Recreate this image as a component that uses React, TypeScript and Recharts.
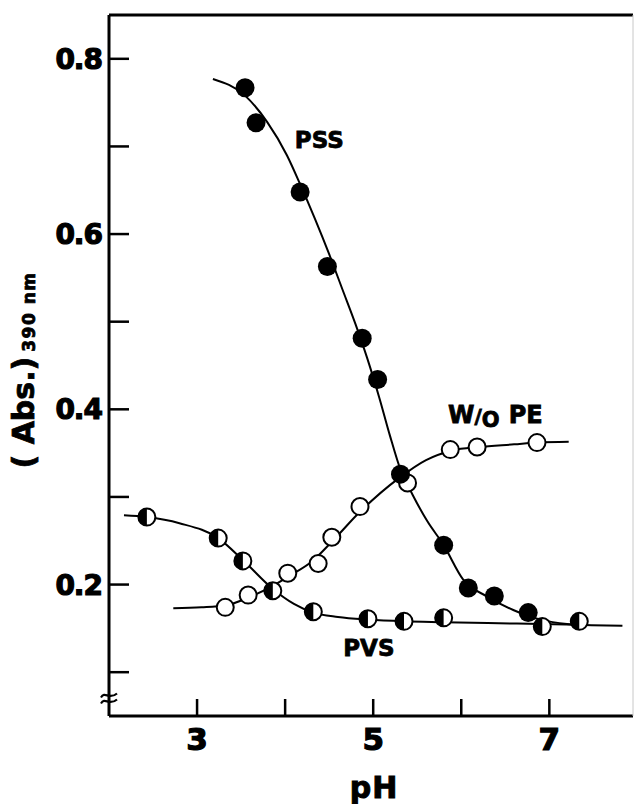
import React from 'react';
import { ComposedChart, Line, Scatter, XAxis, YAxis, ReferenceDot } from 'recharts';

const FONT = '"DejaVu Sans", Arial, sans-serif';

// measured points (pH, absorbance at 390 nm)
const pssPoints = [
  { ph: 3.545, abs: 0.767 },
  { ph: 3.67, abs: 0.727 },
  { ph: 4.17, abs: 0.648 },
  { ph: 4.48, abs: 0.563 },
  { ph: 4.875, abs: 0.481 },
  { ph: 5.05, abs: 0.434 },
  { ph: 5.31, abs: 0.326 },
  { ph: 5.8, abs: 0.245 },
  { ph: 6.08, abs: 0.196 },
  { ph: 6.375, abs: 0.187 },
  { ph: 6.76, abs: 0.168 },
];

const woPoints = [
  { ph: 3.32, abs: 0.174 },
  { ph: 3.58, abs: 0.188 },
  { ph: 4.03, abs: 0.213 },
  { ph: 4.375, abs: 0.224 },
  { ph: 4.53, abs: 0.254 },
  { ph: 4.85, abs: 0.289 },
  { ph: 5.39, abs: 0.316 },
  { ph: 5.875, abs: 0.354 },
  { ph: 6.18, abs: 0.357 },
  { ph: 6.86, abs: 0.362 },
];

const pvsPoints = [
  { ph: 2.43, abs: 0.277 },
  { ph: 3.24, abs: 0.253 },
  { ph: 3.52, abs: 0.227 },
  { ph: 3.86, abs: 0.193 },
  { ph: 4.32, abs: 0.169 },
  { ph: 4.94, abs: 0.161 },
  { ph: 5.35, abs: 0.158 },
  { ph: 5.8, abs: 0.162 },
  { ph: 6.92, abs: 0.152 },
  { ph: 7.34, abs: 0.158 },
];

// hand-drawn curves
const pssCurve = [
  { ph: 3.18, abs: 0.777 },
  { ph: 3.545, abs: 0.758 },
  { ph: 3.795, abs: 0.728 },
  { ph: 4.02, abs: 0.69 },
  { ph: 4.17, abs: 0.657 },
  { ph: 4.34, abs: 0.617 },
  { ph: 4.5, abs: 0.577 },
  { ph: 4.65, abs: 0.537 },
  { ph: 4.8, abs: 0.497 },
  { ph: 4.93, abs: 0.459 },
  { ph: 5.07, abs: 0.413 },
  { ph: 5.19, abs: 0.37 },
  { ph: 5.31, abs: 0.331 },
  { ph: 5.45, abs: 0.302 },
  { ph: 5.61, abs: 0.273 },
  { ph: 5.8, abs: 0.245 },
  { ph: 6.02, abs: 0.206 },
  { ph: 6.3, abs: 0.186 },
  { ph: 6.59, abs: 0.171 },
  { ph: 6.9, abs: 0.16 },
  { ph: 7.2, abs: 0.155 },
  { ph: 7.35, abs: 0.154 },
];

const woCurve = [
  { ph: 2.73, abs: 0.173 },
  { ph: 3.05, abs: 0.174 },
  { ph: 3.32, abs: 0.176 },
  { ph: 3.6, abs: 0.186 },
  { ph: 3.85, abs: 0.198 },
  { ph: 4.05, abs: 0.21 },
  { ph: 4.3, abs: 0.226 },
  { ph: 4.55, abs: 0.251 },
  { ph: 4.85, abs: 0.283 },
  { ph: 5.3, abs: 0.322 },
  { ph: 5.6, abs: 0.342 },
  { ph: 5.9, abs: 0.353 },
  { ph: 6.2, abs: 0.357 },
  { ph: 6.6, abs: 0.36 },
  { ph: 6.86, abs: 0.362 },
  { ph: 7.22, abs: 0.363 },
];

const pvsCurve = [
  { ph: 2.17, abs: 0.279 },
  { ph: 2.43, abs: 0.277 },
  { ph: 2.8, abs: 0.27 },
  { ph: 3.24, abs: 0.253 },
  { ph: 3.52, abs: 0.228 },
  { ph: 3.86, abs: 0.195 },
  { ph: 4.1, abs: 0.178 },
  { ph: 4.32, abs: 0.168 },
  { ph: 4.6, abs: 0.163 },
  { ph: 4.94, abs: 0.16 },
  { ph: 5.35, abs: 0.158 },
  { ph: 5.8, abs: 0.157 },
  { ph: 6.3, abs: 0.156 },
  { ph: 6.9, abs: 0.155 },
  { ph: 7.34, abs: 0.154 },
  { ph: 7.83, abs: 0.153 },
];

const xTicks = [3, 4, 5, 6, 7];
const xLabelled = [3, 5, 7];
const yTicks = [0.1, 0.2, 0.3, 0.4, 0.5, 0.6, 0.7, 0.8];
const yLabelled = [0.2, 0.4, 0.6, 0.8];

const notes = [
  { ph: 4.11, abs: 0.698, text: 'PSS' },
  { ph: 4.66, abs: 0.118, text: 'PVS' },
];
const woNote = { ph: 5.85, abs: 0.384 };
const axisBreak = { ph: 2, abs: 0.07 };

const XTick = (props: any) => {
  const { x, y, payload } = props;
  const v = payload.value;
  return (
    <g>
      <line x1={x} y1={y} x2={x} y2={y - 17} stroke="#000" strokeWidth={2.5} />
      {xLabelled.includes(v) && (
        <text x={x} y={y + 34} textAnchor="middle" fontFamily={FONT} fontWeight="bold" fontSize={31}
          fill="#000" stroke="#000" strokeWidth={1.2}>
          {v}
        </text>
      )}
    </g>
  );
};

const YTick = (props: any) => {
  const { x, y, payload } = props;
  const v = payload.value;
  return (
    <g>
      <line x1={x} y1={y} x2={x + 20} y2={y} stroke="#000" strokeWidth={2.5} />
      {yLabelled.includes(v) && (
        <text x={x - 7} y={y + 10} textAnchor="end" fontFamily={FONT} fontWeight="bold" fontSize={28}
          letterSpacing={-1} fill="#000" stroke="#000" strokeWidth={1.2}>
          {v.toFixed(1)}
        </text>
      )}
    </g>
  );
};

const YTitle = (props: any) => {
  const vb = props.viewBox || { x: 0 };
  return (
    <text
      transform={`translate(${vb.x + 34},370) rotate(-90)`}
      textAnchor="middle"
      fontFamily={FONT}
      fontWeight="bold"
      fill="#000"
      stroke="#000"
      strokeWidth={0.8}
    >
      <tspan fontSize={30}>( Abs.)</tspan>
      <tspan fontSize={17} dx={5} dy={1} letterSpacing={1.5}>390 nm</tspan>
    </text>
  );
};

const XTitle = (props: any) => {
  const vb = props.viewBox || { x: 109, y: 716, width: 524 };
  return (
    <text x={vb.x + vb.width / 2 + 3} y={vb.y + 82} textAnchor="middle" fontFamily={FONT} fontWeight="bold"
      fontSize={30} letterSpacing={1} fill="#000" stroke="#000" strokeWidth={1}>
      pH
    </text>
  );
};

const Filled = (p: any) => <circle cx={p.cx} cy={p.cy} r={9.5} fill="#000" />;
const Open = (p: any) => <circle cx={p.cx} cy={p.cy} r={8.5} fill="#fff" stroke="#000" strokeWidth={2} />;
const Half = (p: any) => {
  const r = 8.5;
  return (
    <g>
      <circle cx={p.cx} cy={p.cy} r={r} fill="#fff" stroke="#000" strokeWidth={2} />
      <path d={`M${p.cx},${p.cy - r} A${r},${r} 0 0 0 ${p.cx},${p.cy + r} Z`} fill="#000" />
    </g>
  );
};

const BreakMark = (p: any) => {
  const { cx, cy } = p;
  const wave = (dy: number) =>
    `M${cx - 8},${cy + dy + 2} C${cx - 4},${cy + dy - 5} ${cx},${cy + dy + 5} ${cx + 8},${cy + dy - 2}`;
  return (
    <g>
      <path d={wave(-3)} fill="none" stroke="#000" strokeWidth={2.2} />
      <path d={wave(3)} fill="none" stroke="#000" strokeWidth={2.2} />
    </g>
  );
};

export default function App() {
  return (
    <div style={{ position: 'absolute', left: 0, top: 0, background: '#fff' }}>
      <ComposedChart width={634} height={804} margin={{ top: 14, right: 0, bottom: 0, left: 0 }}>
        <XAxis
          dataKey="ph"
          type="number"
          domain={[2, 7.95]}
          ticks={xTicks}
          allowDataOverflow
          height={88}
          tickSize={0}
          tickMargin={0}
          tickLine={false}
          tick={<XTick />}
          axisLine={{ stroke: '#000', strokeWidth: 3 }}
          label={<XTitle />}
        />
        <XAxis
          xAxisId="top"
          orientation="top"
          type="number"
          domain={[2, 7.95]}
          height={1}
          tick={false}
          tickLine={false}
          axisLine={{ stroke: '#000', strokeWidth: 3 }}
        />
        <YAxis
          dataKey="abs"
          type="number"
          domain={[0.05, 0.85]}
          ticks={yTicks}
          allowDataOverflow
          width={109}
          tickSize={0}
          tickMargin={0}
          tickLine={false}
          tick={<YTick />}
          axisLine={{ stroke: '#000', strokeWidth: 3 }}
          label={<YTitle />}
        />
        <YAxis
          yAxisId="right"
          orientation="right"
          type="number"
          domain={[0, 1]}
          width={1}
          tick={false}
          tickLine={false}
          axisLine={{ stroke: '#c8c8c8', strokeWidth: 1 }}
        />

        <Line data={pvsCurve} dataKey="abs" type="monotone" stroke="#000" strokeWidth={2} dot={false} isAnimationActive={false} />
        <Line data={woCurve} dataKey="abs" type="monotone" stroke="#000" strokeWidth={2} dot={false} isAnimationActive={false} />
        <Line data={pssCurve} dataKey="abs" type="monotone" stroke="#000" strokeWidth={2} dot={false} isAnimationActive={false} />

        <Scatter data={pvsPoints} dataKey="abs" shape={Half} isAnimationActive={false} />
        <Scatter data={woPoints} dataKey="abs" shape={Open} isAnimationActive={false} />
        <Scatter data={pssPoints} dataKey="abs" shape={Filled} isAnimationActive={false} />

        {notes.map((n) => (
          <ReferenceDot
            key={n.text}
            x={n.ph}
            y={n.abs}
            r={0}
            ifOverflow="visible"
            shape={(p: any) => (
              <text x={p.cx} y={p.cy} fontFamily={FONT} fontWeight="bold" fontSize={23} fill="#000"
                stroke="#000" strokeWidth={0.8}>
                {n.text}
              </text>
            )}
          />
        ))}
        <ReferenceDot
          x={woNote.ph}
          y={woNote.abs}
          r={0}
          ifOverflow="visible"
          shape={(p: any) => (
            <text x={p.cx} y={p.cy} fontFamily={FONT} fontWeight="bold" fontSize={24} fill="#000"
              stroke="#000" strokeWidth={0.8}>
              <tspan>W</tspan>
              <tspan fontSize={20}>/</tspan>
              <tspan dy={4} fontSize={21}>O</tspan>
              <tspan dx={9} dy={-4}>PE</tspan>
            </text>
          )}
        />
        <ReferenceDot x={axisBreak.ph} y={axisBreak.abs} r={0} ifOverflow="visible" shape={BreakMark} />
      </ComposedChart>
    </div>
  );
}
